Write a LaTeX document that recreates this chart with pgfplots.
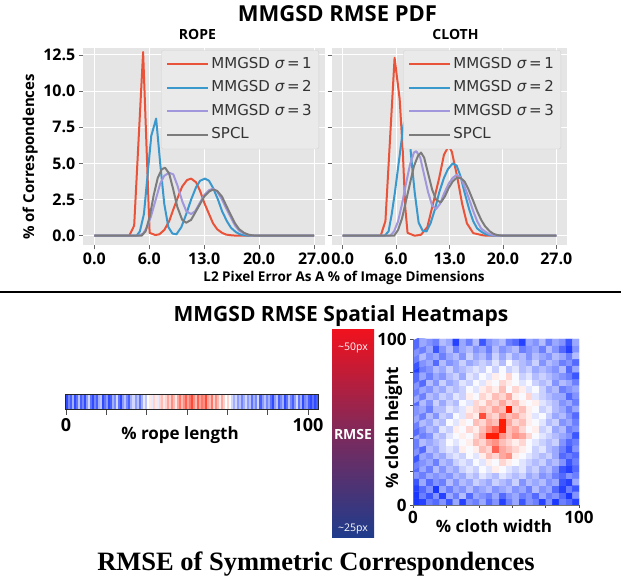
\documentclass[border=0pt]{standalone}
\usepackage{pgfplots}
\pgfplotsset{compat=1.18}
\usepackage{fontspec}
\setmainfont{Open Sans}
\newfontfamily\dejavu{DejaVu Sans}
\newfontfamily\timesf{Liberation Serif}
\definecolor{c1}{HTML}{E9533A}
\definecolor{c2}{HTML}{3A98CC}
\definecolor{c3}{HTML}{A097DC}
\definecolor{c4}{HTML}{7C7C7C}
\definecolor{bg}{HTML}{E5E5E5}
\definecolor{legbg}{HTML}{EAEAEA}
\definecolor{legdraw}{HTML}{D2D2D2}
\definecolor{cbtop}{RGB}{240,18,30}
\definecolor{cbmid}{RGB}{125,42,92}
\definecolor{cbbot}{RGB}{30,60,140}
\newcommand{\fs}[1]{\fontsize{#1}{#1}\selectfont}
\newcommand{\sig}[1]{MMGSD \textit{σ}\hspace{2.5pt}=\hspace{2.5pt}#1}
\newcommand{\tb}[1]{\textbf{#1}}
\pgfplotsset{
 pdfstyle/.style={
  scale only axis, height=196.7pt,
  xmin=-1.35, xmax=28.35, ymin=-0.64, ymax=12.96,
  axis background/.style={fill=bg},
  axis line style={draw=none},
  grid=major, grid style={white, line width=1pt},
  tick align=outside, major tick length=4.5pt,
  tick style={black!60, line width=0.8pt},
  xtick pos=bottom, ytick pos=left,
  xtick={0,6.75,13.5,20.25,27}, xticklabels={\tb{0.0},\tb{6.0},\tb{13.0},\tb{20.0},\tb{27.0}},
  ytick={0,2.5,5,7.5,10,12.5},
  ticklabel style={font=\bfseries\fs{16}},
  legend cell align=left,
  legend style={at={(1,1)}, anchor=north east, xshift=-6pt, yshift=-2pt,
    fill=legbg, draw=legdraw, rounded corners=2pt, font=\dejavu\fs{15}, text=black!80,
    row sep=5.5pt, inner xsep=5pt, inner ysep=5pt,
    nodes={inner sep=2pt, text height=11pt, text depth=3pt}},
  legend image code/.code={\draw[##1,line width=2pt] (0pt,0pt)--(32pt,0pt); \path (0pt,0pt)--(41pt,0pt);},
  every axis plot/.append style={line width=2pt, line join=round, mark=none},
 },
 colormap={bwr}{rgb255=(25,55,255) rgb255=(255,255,255) rgb255=(255,28,5)},
}
\begin{document}
\begin{tikzpicture}
\useasboundingbox (0,0) rectangle (621pt,577pt);
% ---------------- ROPE PDF ----------------
\begin{axis}[pdfstyle, at={(83.3pt,332pt)}, anchor=south west, width=241.7pt,
  yticklabels={\tb{0.0},\tb{2.5},\tb{5.0},\tb{7.5},\tb{10.0},\tb{12.5}}]
\addplot[c1, line width=2pt] coordinates {(0,0)(4.3,0)(4.9,0.7)(6.0,12.7)(6.8,0.2)(7.5,0.05)(8.0,0.1)(8.6,0.4)(9.2,1.0)(9.7,1.8)(10.3,2.7)(10.8,3.4)(11.4,3.85)(11.9,3.95)(12.5,3.7)(13.0,3.1)(13.5,2.3)(14.1,1.5)(14.6,0.85)(15.1,0.45)(15.7,0.2)(16.2,0.08)(17,0.02)(18,0)(27,0)};
\addlegendentry{\sig{1}}
\addplot[c2, line width=2pt] coordinates {(0,0)(5.2,0)(5.6,0.3)(6.1,1.5)(6.6,4.5)(7.0,6.9)(7.6,8.1)(8.1,5.0)(8.6,2.2)(9.1,0.6)(9.6,0.15)(10.1,0.1)(10.7,0.6)(11.3,1.5)(11.9,2.5)(12.5,3.35)(13.0,3.8)(13.6,3.95)(14.1,3.8)(14.6,3.3)(15.2,2.5)(15.7,1.7)(16.3,1.0)(16.8,0.55)(17.4,0.25)(17.9,0.1)(18.5,0.03)(19,0)(27,0)};
\addlegendentry{\sig{2}}
\addplot[c3, line width=2pt] coordinates {(0,0)(5.4,0)(6.0,0.15)(6.5,0.6)(7.0,1.4)(7.6,2.6)(8.1,3.6)(8.6,4.15)(9.2,4.35)(9.7,4.25)(10.2,3.5)(10.8,2.4)(11.3,1.7)(11.9,1.5)(12.4,1.7)(13.0,2.3)(13.5,2.8)(14.1,3.15)(14.6,3.25)(15.1,3.05)(15.7,2.5)(16.2,1.9)(16.8,1.25)(17.3,0.7)(17.8,0.35)(18.4,0.15)(19.0,0.05)(19.5,0)(27,0)};
\addlegendentry{\sig{3}}
\addplot[c4, line width=2pt] coordinates {(0,0)(5.8,0)(6.3,0.3)(6.8,1.3)(7.3,2.8)(7.8,4.0)(8.3,4.6)(8.7,4.7)(9.2,4.3)(9.7,3.2)(10.2,2.0)(10.8,1.1)(11.3,0.9)(11.9,1.1)(12.4,1.6)(13.0,2.2)(13.5,2.7)(14.1,3.05)(14.6,3.2)(15.1,3.1)(15.7,2.7)(16.2,2.1)(16.8,1.4)(17.3,0.85)(17.8,0.45)(18.4,0.2)(18.9,0.08)(19.5,0.02)(20,0)(27,0)};
\addlegendentry{SPCL}
\end{axis}
% ---------------- CLOTH PDF ----------------
\begin{axis}[pdfstyle, at={(332pt,332pt)}, anchor=south west, width=235pt,
  yticklabels={}]
\addplot[c1, line width=2pt] coordinates {(0,0)(4.8,0)(5.4,1.0)(6.56,12.3)(7.2,9.45)(7.6,5.8)(7.9,2.0)(8.2,0.2)(9.1,0)(9.9,0.07)(10.7,0.6)(11.5,2.4)(12.2,4.0)(12.8,5.6)(13.4,6.2)(13.8,5.8)(14.5,4.0)(15.1,2.2)(15.7,0.86)(16.5,0.18)(17.8,0.02)(18.6,0)(27,0)};
\addlegendentry{\sig{1}}
\addplot[c2, line width=2pt] coordinates {(0,0)(5.3,0)(5.8,0.3)(6.2,1.5)(6.6,3.0)(7.0,4.7)(7.7,7.7)(8.2,8.3)(8.7,5.2)(9.1,3.0)(9.6,0.9)(10.1,0.35)(10.6,0.3)(11.1,0.85)(11.7,1.9)(12.2,3.0)(12.8,4.0)(13.3,4.6)(13.9,5.0)(14.4,4.85)(14.9,4.1)(15.4,3.0)(16.0,1.8)(16.5,1.0)(17.0,0.5)(17.6,0.25)(18.1,0.1)(18.6,0.04)(19.2,0)(27,0)};
\addlegendentry{\sig{2}}
\addplot[c3, line width=2pt] coordinates {(0,0)(6.0,0)(6.5,0.3)(7.0,1.0)(7.5,2.2)(8.0,3.6)(8.5,4.9)(9.0,5.75)(9.3,5.85)(9.8,5.4)(10.3,4.2)(10.8,3.0)(11.3,2.1)(11.8,1.85)(12.3,2.2)(12.8,2.9)(13.4,3.6)(13.9,4.0)(14.4,4.2)(14.9,4.05)(15.4,3.4)(16.0,2.5)(16.5,1.7)(17.0,1.0)(17.5,0.5)(18.1,0.25)(18.6,0.1)(19.1,0.03)(19.6,0)(27,0)};
\addlegendentry{\sig{3}}
\addplot[c4, line width=2pt] coordinates {(0,0)(6.5,0)(7.0,0.4)(7.5,1.2)(8.0,2.4)(8.5,3.6)(9.0,4.8)(9.5,5.5)(9.9,5.75)(10.3,5.4)(10.8,4.3)(11.3,3.2)(11.8,2.5)(12.4,2.3)(12.9,2.7)(13.4,3.3)(13.9,3.75)(14.4,4.0)(14.9,4.0)(15.4,3.75)(15.9,3.2)(16.5,2.4)(17.0,1.7)(17.5,1.1)(18.0,0.65)(18.6,0.3)(19.1,0.12)(19.6,0.04)(20.2,0)(27,0)};
\addlegendentry{SPCL}
\end{axis}
% ---------------- ROPE STRIP ----------------
\begin{axis}[at={(66pt,168pt)}, anchor=south west, scale only axis, width=252pt, height=14pt,
  xmin=0, xmax=125, ymin=0, ymax=1, axis on top,
  axis line style={black!85, line width=1.2pt}, ytick=\empty,
  xtick={0,20,40,60,80,100,120}, xticklabels={0,,,,,,100}, xtick pos=bottom,
  tick align=outside, major tick length=6pt, tick style={black!70, line width=0.8pt},
  ticklabel style={font=\bfseries\fs{18}},
  point meta min=-10, point meta max=10]
\addplot[scatter, only marks, mark=|, mark size=7pt, mark options={line width=2.1pt},
  scatter/use mapped color={draw=mapped color, fill=mapped color}, point meta=explicit]
  table[header=false, row sep=\\, x expr={\coordindex+0.5}, y expr={0.5}, meta index=0] {
-9\\-6\\-8\\-4\\-9\\-7\\-3\\-8\\-6\\-9\\
-5\\-2\\-7\\-9\\-6\\-8\\-4\\-3\\-9\\-7\\
-5\\-9\\-8\\-4\\-6\\-2\\-7\\-9\\-5\\-3\\
-6\\-8\\-4\\-2\\-5\\-3\\-7\\-4\\-1\\-3\\
0\\1\\-1\\2\\1\\-1\\2\\3\\1\\2\\
4\\2\\5\\3\\1\\4\\6\\3\\5\\7\\
4\\6\\8\\5\\3\\7\\4\\6\\5\\8\\
4\\3\\6\\2\\5\\3\\1\\4\\2\\0\\
2\\0\\-2\\-4\\-2\\-5\\-3\\-6\\-4\\-2\\
-5\\-3\\-7\\-4\\-6\\-2\\-8\\-5\\-3\\-6\\
-4\\-7\\-9\\-5\\-3\\-8\\-6\\-4\\-9\\-7\\
-3\\-6\\-8\\-5\\-2\\-7\\-4\\-9\\-6\\-5\\
-8\\-9\\-7\\-9\\-8\\
};
\end{axis}
% ---------------- COLORBAR ----------------
\shade[top color=cbtop, bottom color=cbbot, middle color=cbmid] (332pt,39pt) rectangle (374pt,247pt);
\node[white, font=\fs{10.5}, anchor=base] at (353pt,226pt) {\textasciitilde50px};
\node[white, font=\bfseries\fs{14}, anchor=base] at (353pt,137pt) {RMSE};
\node[white, font=\fs{10.5}, anchor=base] at (353pt,45pt) {\textasciitilde25px};
% ---------------- HEATMAP ----------------
\begin{axis}[at={(413pt,72pt)}, anchor=south west, scale only axis, width=166pt, height=166pt,
  xmin=-0.5, xmax=24.5, ymin=-0.5, ymax=24.5, enlargelimits=false, axis on top,
  axis lines=left, axis line style={black!55, -, line width=0.8pt},
  xtick={-0.5,4.5,9.5,14.5,19.5,24.5}, xticklabels={0,,,,,100},
  ytick={-0.5,4.5,9.5,14.5,19.5,24.5}, yticklabels={0,,,,,100},
  tick align=outside, major tick length=3pt, tick style={black!70, line width=0.8pt},
  ticklabel style={font=\bfseries\fs{17}},
  point meta min=-8.5, point meta max=11]
\addplot[matrix plot*, mesh/cols=25, point meta=explicit]
  table[header=false, row sep=\\, x expr={mod(\coordindex,25)}, y expr={floor(\coordindex/25)}, meta index=0] {
-9\\-8\\-5\\-6\\-4\\-7\\-3\\-8\\-4\\-5\\-3\\-6\\-4\\-8\\-5\\-3\\-7\\-4\\-5\\-8\\-4\\-9\\-5\\-6\\-8\\
-9\\-5\\-7\\-4\\-8\\-3\\-5\\-2\\-6\\-3\\-4\\-5\\-3\\-6\\-4\\-3\\-5\\-4\\-6\\-3\\-5\\-4\\-6\\-9\\-4\\
-8\\-6\\-4\\-9\\-3\\-5\\-3\\-4\\-2\\-4\\-3\\-2\\-4\\-3\\-2\\-4\\-3\\-5\\-2\\-4\\-3\\-6\\-8\\-5\\-7\\
-7\\-3\\-6\\-4\\-5\\-2\\-4\\-2\\-3\\-1\\-2\\-3\\-1\\-2\\-3\\-1\\-4\\-2\\-3\\-2\\-4\\-3\\-7\\-8\\-3\\
-4\\-5\\-3\\-4\\-3\\-4\\-2\\-3\\-1\\-2\\0\\-1\\-2\\0\\-1\\-2\\-1\\-3\\-2\\-4\\-3\\-5\\-6\\-4\\-5\\
-6\\-3\\-5\\-2\\-4\\-2\\-3\\-1\\0\\-1\\1\\0\\2\\1\\0\\-1\\0\\-2\\-1\\-3\\-2\\-4\\-7\\-8\\-6\\
-5\\-4\\-3\\-5\\-2\\-3\\-1\\0\\-1\\1\\0\\2\\1\\3\\2\\1\\0\\-1\\-2\\-1\\-3\\-2\\-4\\-7\\-5\\
-7\\-3\\-4\\-2\\-3\\-1\\0\\-1\\1\\0\\2\\4\\3\\5\\6\\2\\1\\0\\-1\\-2\\-1\\-3\\-6\\-5\\-6\\
-4\\-6\\-2\\-3\\-1\\0\\-1\\2\\1\\2\\4\\3\\8\\5\\4\\3\\2\\1\\-1\\0\\-2\\-3\\-5\\-7\\-4\\
-5\\-2\\-3\\-2\\-1\\1\\0\\1\\2\\4\\3\\5\\6\\4\\3\\2\\3\\1\\0\\-1\\-2\\-1\\-4\\-6\\-5\\
-3\\-5\\-4\\-1\\-2\\0\\1\\2\\1\\3\\5\\13\\13\\6\\4\\6\\5\\3\\1\\0\\-1\\-2\\-3\\-4\\-7\\
-6\\-4\\-2\\-3\\0\\-1\\2\\1\\3\\2\\4\\6\\8\\12\\4\\5\\3\\1\\2\\-1\\0\\-3\\-2\\-5\\-4\\
-5\\-2\\-3\\-1\\-2\\1\\0\\2\\1\\4\\3\\5\\4\\12\\5\\3\\4\\2\\1\\0\\-2\\-1\\-4\\-3\\-5\\
-3\\-5\\-2\\-4\\-1\\-2\\1\\0\\3\\2\\9\\4\\3\\6\\4\\5\\3\\2\\0\\1\\-1\\-3\\-2\\-4\\-6\\
-4\\-3\\-5\\-2\\-2\\0\\-1\\0\\2\\3\\4\\3\\5\\4\\11\\3\\4\\2\\1\\-1\\0\\-2\\-3\\-5\\-3\\
-6\\-2\\-4\\-1\\-3\\-1\\-2\\1\\0\\3\\2\\4\\3\\5\\3\\4\\2\\1\\2\\0\\-1\\-2\\-4\\-3\\-5\\
-3\\-5\\-2\\-3\\-1\\-2\\0\\-1\\2\\1\\3\\2\\4\\3\\5\\2\\1\\3\\0\\-1\\-2\\-3\\-3\\-6\\-4\\
-5\\-3\\-4\\-2\\-3\\-1\\-2\\-1\\1\\0\\2\\3\\2\\4\\1\\3\\2\\0\\1\\-1\\-3\\-2\\-5\\-4\\-3\\
-4\\-6\\-2\\-4\\-1\\-3\\-2\\0\\-1\\1\\0\\2\\1\\3\\2\\1\\0\\1\\-1\\-2\\-1\\-4\\-2\\-3\\-5\\
-6\\-3\\-5\\-3\\-4\\-2\\-1\\-3\\0\\-1\\1\\0\\2\\1\\3\\1\\-1\\0\\-2\\-1\\-2\\-3\\-4\\-5\\-7\\
-8\\-5\\-4\\-2\\-3\\-1\\-3\\-2\\-1\\0\\-1\\1\\-1\\1\\-1\\0\\-2\\-1\\-3\\-2\\-3\\-4\\-2\\-6\\-3\\
-7\\-4\\-3\\-6\\-2\\-4\\-3\\-1\\-3\\-2\\-1\\-2\\0\\-2\\1\\-1\\-2\\-3\\-1\\-4\\-2\\-3\\-5\\-4\\-6\\
-5\\-2\\-4\\-3\\-5\\-3\\-2\\-4\\-1\\-3\\-2\\-4\\-1\\-3\\-1\\-3\\-2\\-4\\-2\\-3\\-4\\-2\\-3\\-5\\-2\\
-4\\-5\\-3\\-7\\-4\\-2\\-5\\-3\\-2\\-4\\-3\\-5\\-2\\-4\\-3\\-2\\-5\\-4\\-3\\-5\\-2\\-4\\-6\\-8\\-4\\
-6\\-3\\-4\\-5\\-2\\-3\\-8\\-3\\-5\\-2\\-7\\-4\\-3\\-2\\-5\\-6\\-8\\-3\\-4\\-2\\-5\\-3\\-4\\-7\\-3\\
};
\end{axis}
% ---------------- TEXT ----------------
\node[font=\bfseries\fs{22}, anchor=base] at (337.5pt,555pt) {MMGSD RMSE PDF};
\node[font=\bfseries\fs{14}, anchor=base] at (197.5pt,537pt) {ROPE};
\node[font=\bfseries\fs{14}, anchor=base] at (455.5pt,537pt) {CLOTH};
\node[font=\bfseries\fs{15}, anchor=base, rotate=90] at (34pt,420pt) {\% of Correspondences};
\node[font=\bfseries\fs{13.5}, anchor=base] at (344pt,295pt) {L2 Pixel Error As A \% of Image Dimensions};
\draw[line width=1.5pt] (0pt,285pt) -- (621pt,285pt);
\node[font=\bfseries\fs{21}, anchor=base] at (341pt,255pt) {MMGSD RMSE Spatial Heatmaps};
\node[font=\bfseries\fs{17}, anchor=base] at (180pt,137pt) {\% rope length};
\node[font=\bfseries\fs{17}, anchor=base, rotate=90] at (398pt,149pt) {\% cloth height};
\node[font=\bfseries\fs{17}, anchor=base] at (494pt,44pt) {\% cloth width};
\node[font=\timesf\bfseries\fs{26.5}, anchor=base] at (316pt,6pt) {RMSE of Symmetric Correspondences};
\end{tikzpicture}
\end{document}
